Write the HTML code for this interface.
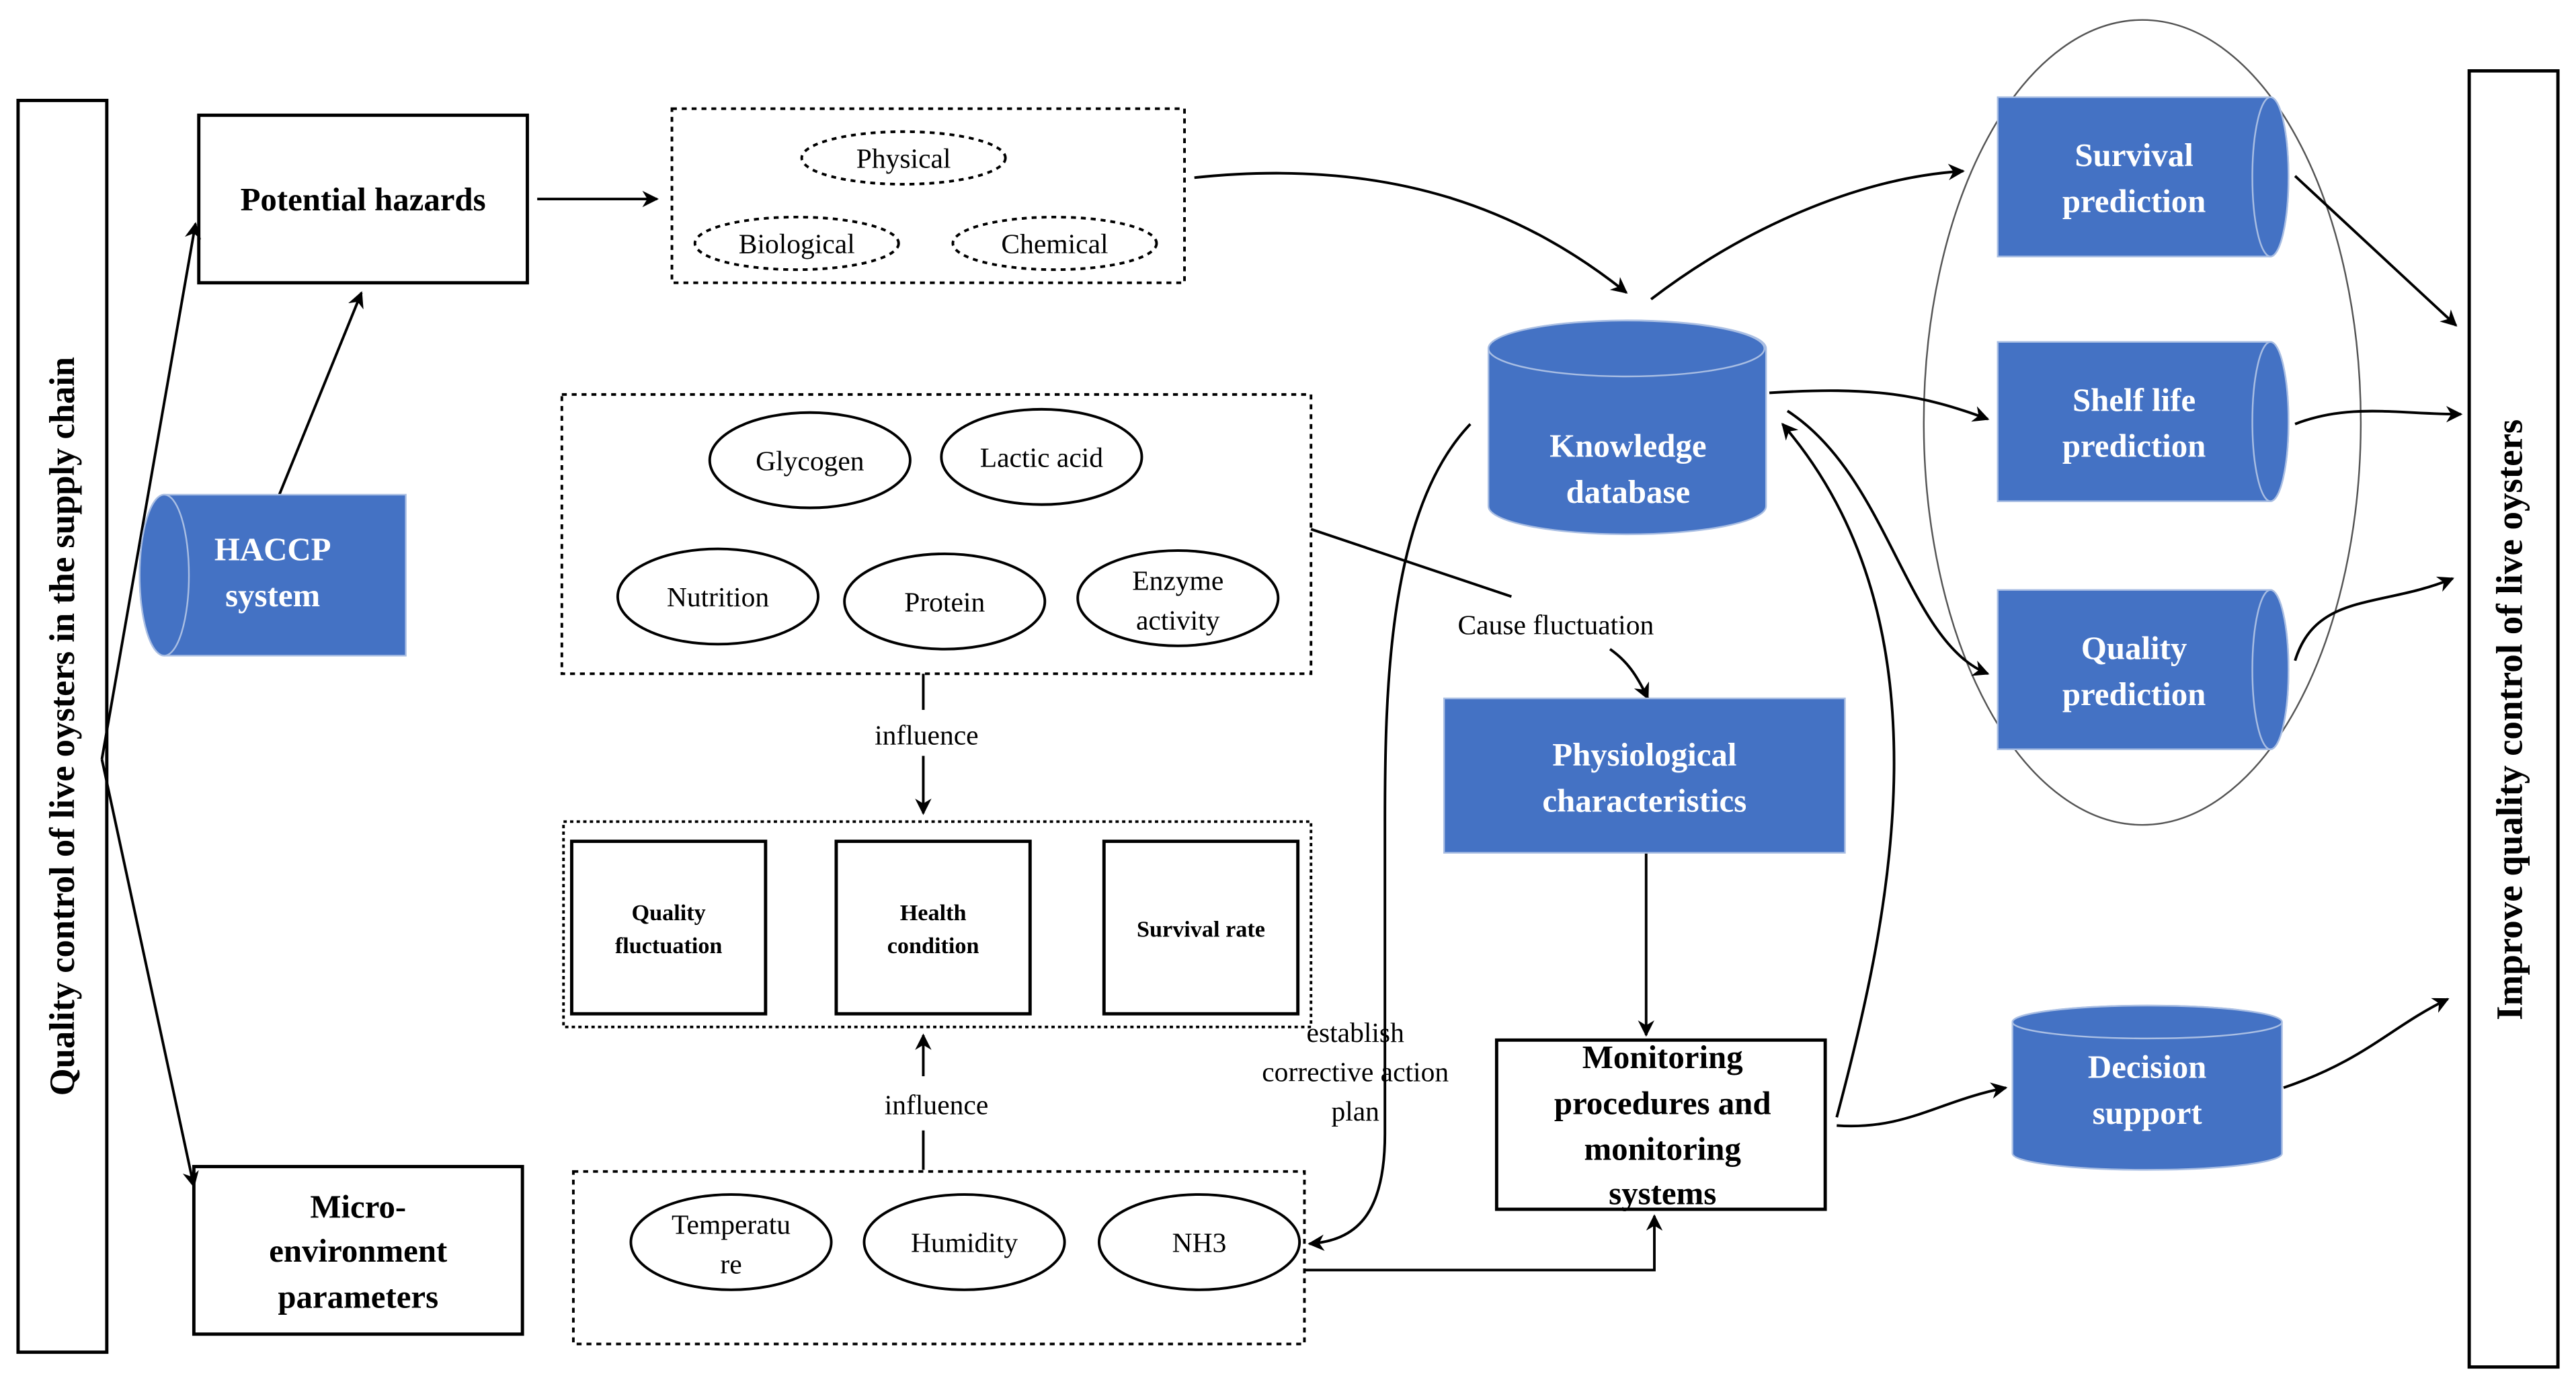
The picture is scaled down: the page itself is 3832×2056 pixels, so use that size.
<!DOCTYPE html>
<html><head><meta charset="utf-8"><style>
html,body{margin:0;padding:0;background:#fff;}
svg{display:block;}
text{font-family:"Liberation Serif",serif;}
</style></head><body>
<svg width="3832" height="2056" viewBox="0 0 1568 841" xmlns="http://www.w3.org/2000/svg">
<defs>
<marker id="a" markerWidth="10" markerHeight="10" refX="9" refY="5" orient="auto" markerUnits="userSpaceOnUse">
<path d="M0,0 L10,5 L0,10 L3,5 z" fill="#000"/></marker>
</defs>
<g fill="none" stroke="#000" stroke-width="1.6">
<rect x="11" y="61" width="54" height="762" stroke-width="2"/>
<rect x="1503" y="43" width="54" height="789" stroke-width="2"/>
<rect x="121" y="70" width="200" height="102" stroke-width="2"/>
<line x1="327" y1="121" x2="400" y2="121" marker-end="url(#a)"/>
<rect x="409" y="66" width="312" height="106" stroke-dasharray="3,3"/>
<ellipse cx="550" cy="96" rx="62" ry="16" stroke-dasharray="3,3"/>
<ellipse cx="485" cy="148" rx="62" ry="16" stroke-dasharray="3,3"/>
<ellipse cx="642" cy="148" rx="62" ry="16" stroke-dasharray="3,3"/>
<line x1="170" y1="301" x2="220" y2="178" marker-end="url(#a)"/>
<line x1="62" y1="462" x2="119" y2="136" marker-end="url(#a)"/>
<line x1="62" y1="462" x2="118" y2="722" marker-end="url(#a)"/>
<rect x="118" y="710" width="200" height="102" stroke-width="2"/>
<rect x="342" y="240" width="456" height="170" stroke-dasharray="3,3"/>
<ellipse cx="493" cy="280" rx="61" ry="29"/>
<ellipse cx="634" cy="278" rx="61" ry="29"/>
<ellipse cx="437" cy="363" rx="61" ry="29"/>
<ellipse cx="575" cy="366" rx="61" ry="29"/>
<ellipse cx="717" cy="364" rx="61" ry="29"/>
<line x1="562" y1="410" x2="562" y2="432"/>
<line x1="562" y1="460" x2="562" y2="495" marker-end="url(#a)"/>
<rect x="343" y="500" width="455" height="125" stroke-dasharray="2,2"/>
<rect x="348" y="512" width="118" height="105" stroke-width="2"/>
<rect x="509" y="512" width="118" height="105" stroke-width="2"/>
<rect x="672" y="512" width="118" height="105" stroke-width="2"/>
<line x1="562" y1="712" x2="562" y2="688"/>
<line x1="562" y1="655" x2="562" y2="630" marker-end="url(#a)"/>
<rect x="349" y="713" width="445" height="105" stroke-dasharray="3,3"/>
<ellipse cx="445" cy="756" rx="61" ry="29"/>
<ellipse cx="587" cy="756" rx="61" ry="29"/>
<ellipse cx="730" cy="756" rx="61" ry="29"/>
<ellipse cx="1304" cy="257" rx="133" ry="245" stroke="#555" stroke-width="1"/>
<path d="M727,108 C850,95 930,130 990,178" marker-end="url(#a)"/>
<path d="M1005,182 C1060,140 1130,108 1195,104" marker-end="url(#a)"/>
<path d="M1077,239 C1140,235 1170,240 1210,255" marker-end="url(#a)"/>
<path d="M1088,250 C1150,290 1160,390 1210,410" marker-end="url(#a)"/>
<path d="M1118,680 C1150,560 1190,380 1085,258" marker-end="url(#a)"/>
<line x1="798" y1="322" x2="920" y2="363"/>
<path d="M980,395 C990,402 996,410 1003,425" marker-end="url(#a)"/>
<line x1="1002" y1="519" x2="1002" y2="630" marker-end="url(#a)"/>
<path d="M794,773 L1007,773 L1007,740" marker-end="url(#a)"/>
<path d="M895,258 C845,310 843,420 843,500 L843,690 C843,740 825,755 797,757" marker-end="url(#a)"/>
<path d="M1118,685 C1160,688 1180,670 1221,662" marker-end="url(#a)"/>
<path d="M1390,662 C1440,645 1455,625 1490,608" marker-end="url(#a)"/>
<line x1="1397" y1="107" x2="1495" y2="198" marker-end="url(#a)"/>
<path d="M1397,258 C1430,245 1460,252 1498,252" marker-end="url(#a)"/>
<path d="M1397,402 C1410,360 1450,370 1493,352" marker-end="url(#a)"/>
<rect x="911" y="633" width="200" height="103" stroke-width="2"/>
</g>
<g fill="#4472C4" stroke="#A9BEE3" stroke-width="1">
<path d="M100,301 L247,301 L247,399 L100,399 A15,49 0 0 1 100,301 z"/>
<ellipse cx="100" cy="350" rx="15" ry="49"/>
<path d="M906,212 A84,17 0 0 1 1075,212 L1075,308 A84,17 0 0 1 906,308 z"/>
<ellipse cx="990" cy="212" rx="84" ry="17"/>
<rect x="879" y="425" width="244" height="94"/>
<path d="M1225,622 A82,10 0 0 1 1389,622 L1389,702 A82,10 0 0 1 1225,702 z"/>
<ellipse cx="1307" cy="622" rx="82" ry="10"/>
<path d="M1216,59 L1382,59 A11,48.5 0 0 1 1382,156 L1216,156 z"/>
<ellipse cx="1382" cy="107.5" rx="11" ry="48.5"/>
<path d="M1216,208 L1382,208 A11,48.5 0 0 1 1382,305 L1216,305 z"/>
<ellipse cx="1382" cy="256.5" rx="11" ry="48.5"/>
<path d="M1216,359 L1382,359 A11,48.5 0 0 1 1382,456 L1216,456 z"/>
<ellipse cx="1382" cy="407.5" rx="11" ry="48.5"/>
</g>
<g font-size="17" text-anchor="middle" fill="#000">
<text x="38" y="442" transform="rotate(-90 38 442)" font-weight="bold" font-size="21.5" dy="7">Quality control of live oysters in the supply chain</text>
<text x="1528" y="438" transform="rotate(-90 1528 438)" font-weight="bold" font-size="22.5" dy="7">Improve quality control of live oysters</text>
<text x="221" y="128" font-weight="bold" font-size="20">Potential hazards</text>
<text x="550" y="102">Physical</text>
<text x="485" y="154">Biological</text>
<text x="642" y="154">Chemical</text>
<text x="218" y="741" font-weight="bold" font-size="20">Micro-</text>
<text x="218" y="768" font-weight="bold" font-size="20">environment</text>
<text x="218" y="796" font-weight="bold" font-size="20">parameters</text>
<text x="493" y="286">Glycogen</text>
<text x="634" y="284">Lactic acid</text>
<text x="437" y="369">Nutrition</text>
<text x="575" y="372">Protein</text>
<text x="717" y="359">Enzyme</text>
<text x="717" y="383">activity</text>
<text x="564" y="453">influence</text>
<text x="570" y="678">influence</text>
<text x="407" y="560" font-weight="bold" font-size="14">Quality</text>
<text x="407" y="580" font-weight="bold" font-size="14">fluctuation</text>
<text x="568" y="560" font-weight="bold" font-size="14">Health</text>
<text x="568" y="580" font-weight="bold" font-size="14">condition</text>
<text x="731" y="570" font-weight="bold" font-size="14">Survival rate</text>
<text x="445" y="751">Temperatu</text>
<text x="445" y="775">re</text>
<text x="587" y="762">Humidity</text>
<text x="730" y="762">NH3</text>
<text x="947" y="386">Cause fluctuation</text>
<text x="825" y="634">establish</text>
<text x="825" y="658">corrective action</text>
<text x="825" y="682">plan</text>
<text x="1012" y="650" font-weight="bold" font-size="20">Monitoring</text>
<text x="1012" y="678" font-weight="bold" font-size="20">procedures and</text>
<text x="1012" y="706" font-weight="bold" font-size="20">monitoring</text>
<text x="1012" y="733" font-weight="bold" font-size="20">systems</text>
</g>
<g font-size="20" text-anchor="middle" fill="#fff" font-weight="bold">
<text x="166" y="341">HACCP</text>
<text x="166" y="369">system</text>
<text x="991" y="278">Knowledge</text>
<text x="991" y="306">database</text>
<text x="1001" y="466">Physiological</text>
<text x="1001" y="494">characteristics</text>
<text x="1307" y="656">Decision</text>
<text x="1307" y="684">support</text>
<text x="1299" y="101">Survival</text>
<text x="1299" y="129">prediction</text>
<text x="1299" y="250">Shelf life</text>
<text x="1299" y="278">prediction</text>
<text x="1299" y="401">Quality</text>
<text x="1299" y="429">prediction</text>
</g>
</svg>
</body></html>
